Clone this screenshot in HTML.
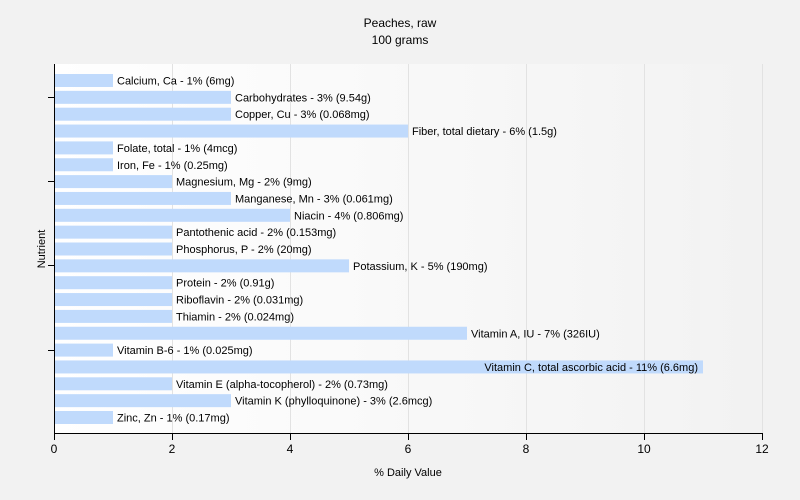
<!DOCTYPE html>
<html><head><style>body{margin:0;background:#f2f2f2}svg{display:block}text{font-family:"Liberation Sans",sans-serif;fill:#000}</style></head><body>
<svg width="800" height="500" xmlns="http://www.w3.org/2000/svg">
<defs><linearGradient id="g" x1="0" x2="1" y1="0" y2="0"><stop offset="0" stop-color="#ffffff"/><stop offset="1" stop-color="#f2f2f2"/></linearGradient></defs>
<rect width="800" height="500" fill="#f2f2f2"/>
<rect x="54" y="64" width="708" height="370" fill="url(#g)"/>
<g stroke="#e2e2e2" stroke-width="1">
<line x1="172.5" y1="64" x2="172.5" y2="434"/><line x1="290.5" y1="64" x2="290.5" y2="434"/><line x1="408.5" y1="64" x2="408.5" y2="434"/><line x1="526.5" y1="64" x2="526.5" y2="434"/><line x1="644.5" y1="64" x2="644.5" y2="434"/><line x1="762.5" y1="64" x2="762.5" y2="434"/>
</g>
<text x="400" y="27" font-size="12" text-anchor="middle">Peaches, raw</text>
<text x="400" y="44" font-size="12" text-anchor="middle">100 grams</text>
<g fill="#c0dafc">
<rect x="55" y="74" width="58" height="13"/>
<rect x="55" y="90.85" width="176" height="13"/>
<rect x="55" y="107.7" width="176" height="13"/>
<rect x="55" y="124.55" width="353" height="13"/>
<rect x="55" y="141.4" width="58" height="13"/>
<rect x="55" y="158.25" width="58" height="13"/>
<rect x="55" y="175.1" width="117" height="13"/>
<rect x="55" y="191.95" width="176" height="13"/>
<rect x="55" y="208.8" width="235" height="13"/>
<rect x="55" y="225.65" width="117" height="13"/>
<rect x="55" y="242.5" width="117" height="13"/>
<rect x="55" y="259.35" width="294" height="13"/>
<rect x="55" y="276.2" width="117" height="13"/>
<rect x="55" y="293.05" width="117" height="13"/>
<rect x="55" y="309.9" width="117" height="13"/>
<rect x="55" y="326.75" width="412" height="13"/>
<rect x="55" y="343.6" width="58" height="13"/>
<rect x="55" y="360.45" width="648" height="13"/>
<rect x="55" y="377.3" width="117" height="13"/>
<rect x="55" y="394.15" width="176" height="13"/>
<rect x="55" y="411" width="58" height="13"/>
</g>
<g font-size="11">
<text x="117" y="84.5">Calcium, Ca - 1% (6mg)</text>
<text x="235" y="101.35">Carbohydrates - 3% (9.54g)</text>
<text x="235" y="118.2">Copper, Cu - 3% (0.068mg)</text>
<text x="412" y="135.05">Fiber, total dietary - 6% (1.5g)</text>
<text x="117" y="151.9">Folate, total - 1% (4mcg)</text>
<text x="117" y="168.75">Iron, Fe - 1% (0.25mg)</text>
<text x="176" y="185.6">Magnesium, Mg - 2% (9mg)</text>
<text x="235" y="202.45">Manganese, Mn - 3% (0.061mg)</text>
<text x="294" y="219.3">Niacin - 4% (0.806mg)</text>
<text x="176" y="236.15">Pantothenic acid - 2% (0.153mg)</text>
<text x="176" y="253">Phosphorus, P - 2% (20mg)</text>
<text x="353" y="269.85">Potassium, K - 5% (190mg)</text>
<text x="176" y="286.7">Protein - 2% (0.91g)</text>
<text x="176" y="303.55">Riboflavin - 2% (0.031mg)</text>
<text x="176" y="320.4">Thiamin - 2% (0.024mg)</text>
<text x="471" y="337.25">Vitamin A, IU - 7% (326IU)</text>
<text x="117" y="354.1">Vitamin B-6 - 1% (0.025mg)</text>
<text x="698" y="370.95" text-anchor="end">Vitamin C, total ascorbic acid - 11% (6.6mg)</text>
<text x="176" y="387.8">Vitamin E (alpha-tocopherol) - 2% (0.73mg)</text>
<text x="235" y="404.65">Vitamin K (phylloquinone) - 3% (2.6mcg)</text>
<text x="117" y="421.5">Zinc, Zn - 1% (0.17mg)</text>
</g>
<g stroke="#000" stroke-width="1">
<line x1="54.5" y1="64" x2="54.5" y2="434"/><line x1="54" y1="433.5" x2="763" y2="433.5"/>
<line x1="48" y1="97.5" x2="54" y2="97.5"/><line x1="48" y1="181.5" x2="54" y2="181.5"/><line x1="48" y1="265.5" x2="54" y2="265.5"/><line x1="48" y1="350.5" x2="54" y2="350.5"/>
<line x1="54.5" y1="434" x2="54.5" y2="440"/><line x1="172.5" y1="434" x2="172.5" y2="440"/><line x1="290.5" y1="434" x2="290.5" y2="440"/><line x1="408.5" y1="434" x2="408.5" y2="440"/><line x1="526.5" y1="434" x2="526.5" y2="440"/><line x1="644.5" y1="434" x2="644.5" y2="440"/><line x1="762.5" y1="434" x2="762.5" y2="440"/>
</g>
<g font-size="12" text-anchor="middle">
<text x="54" y="453">0</text><text x="172" y="453">2</text><text x="290" y="453">4</text><text x="408" y="453">6</text><text x="526" y="453">8</text><text x="644" y="453">10</text><text x="762" y="453">12</text>
</g>
<text x="408" y="476" font-size="11" text-anchor="middle">% Daily Value</text>
<text x="45" y="249" font-size="11" text-anchor="middle" transform="rotate(-90 45 249)">Nutrient</text>
</svg>
</body></html>
